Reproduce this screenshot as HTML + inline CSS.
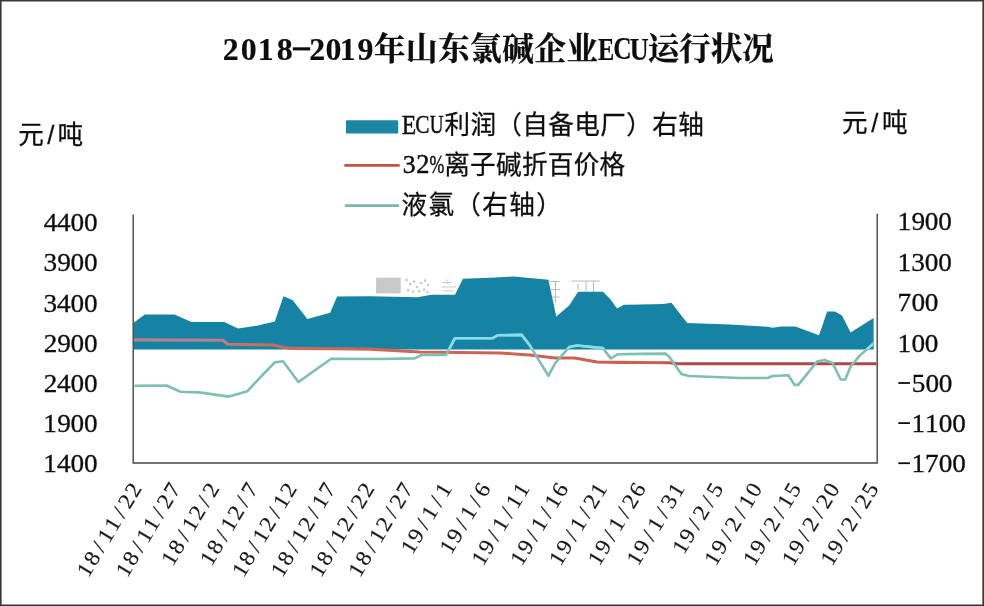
<!DOCTYPE html>
<html><head><meta charset="utf-8"><title>chart</title>
<style>
html,body{margin:0;padding:0;background:#fff;}
body{width:984px;height:606px;overflow:hidden;font-family:"Liberation Serif",serif;}
svg{display:block;position:absolute;left:0;top:0;}
text{font-family:"Liberation Serif",serif;fill:#111;}
svg{will-change:transform;}
.tb{font-weight:bold;fill:#0a0a0a;stroke:#0a0a0a;stroke-width:.15px;}
.ax text{stroke:#111;stroke-width:.3px;}
.xl text{fill:#161616;stroke:#161616;stroke-width:.15px;}
.lg{stroke:#111;stroke-width:.45px;}
</style></head><body>
<svg width="984" height="606" viewBox="0 0 984 606">
<defs><filter id="soft" x="0" y="0" width="984" height="606" filterUnits="userSpaceOnUse"><feGaussianBlur stdDeviation="0.45"/></filter></defs>
<rect x="0" y="0" width="984" height="606" fill="#fff"/>
<g filter="url(#soft)">
<text x="374" y="60" font-size="31.5" textLength="224" lengthAdjust="spacing" style="font-family:'Liberation Serif','Noto Serif CJK SC',serif;font-weight:bold;fill:#0a0a0a;stroke:#0a0a0a;stroke-width:.29px;">年山东氯碱企业</text>
<text x="647.8" y="60" font-size="31.5" textLength="126" lengthAdjust="spacing" style="font-family:'Liberation Serif','Noto Serif CJK SC',serif;font-weight:bold;fill:#0a0a0a;stroke:#0a0a0a;stroke-width:.29px;">运行状况</text>
<text class="tb" font-size="30" transform="translate(222.87 59.50) scale(1.060 1.050)">2</text>
<text class="tb" font-size="30" transform="translate(240.85 59.50) scale(1.060 1.050)">0</text>
<text class="tb" font-size="30" transform="translate(257.70 59.50) scale(1.060 1.050)">1</text>
<text class="tb" font-size="30" transform="translate(276.65 59.50) scale(1.060 1.050)">8</text>
<text class="tb" font-size="30" transform="translate(309.27 59.50) scale(1.060 1.050)">2</text>
<text class="tb" font-size="30" transform="translate(325.45 59.50) scale(1.060 1.050)">0</text>
<text class="tb" font-size="30" transform="translate(339.80 59.50) scale(1.060 1.050)">1</text>
<text class="tb" font-size="30" transform="translate(357.39 59.50) scale(1.060 1.050)">9</text>
<rect x="292.8" y="47.3" width="17.4" height="3.1" fill="#0a0a0a"/>
<text class="tb" font-size="30" transform="translate(598.08 59.80) scale(0.813 1.084)">E</text>
<text class="tb" font-size="30" transform="translate(613.26 59.49) scale(0.848 1.057)">C</text>
<text class="tb" font-size="30" transform="translate(629.75 59.50) scale(0.873 1.069)">U</text>
<text x="444.4" y="134" font-size="25.6" textLength="259.4" lengthAdjust="spacing" style="font-family:'Liberation Sans','Noto Sans CJK SC',sans-serif;fill:#111;stroke:#111;stroke-width:.28px;">利润（自备电厂）右轴</text>
<text x="444.2" y="173.7" font-size="25.6" textLength="181" lengthAdjust="spacing" style="font-family:'Liberation Sans','Noto Sans CJK SC',sans-serif;fill:#111;stroke:#111;stroke-width:.28px;">离子碱折百价格</text>
<text x="401.4" y="213.8" font-size="25.6" textLength="160.5" lengthAdjust="spacing" style="font-family:'Liberation Sans','Noto Sans CJK SC',sans-serif;fill:#111;stroke:#111;stroke-width:.28px;">液氯（右轴）</text>
<text x="18.2" y="143.9" font-size="25.6" textLength="65" lengthAdjust="spacing" style="font-family:'Liberation Sans','Noto Sans CJK SC',sans-serif;fill:#111;stroke:#111;stroke-width:.28px;">元/吨</text>
<text x="842.1" y="132.1" font-size="25.6" textLength="65.5" lengthAdjust="spacing" style="font-family:'Liberation Sans','Noto Sans CJK SC',sans-serif;fill:#111;stroke:#111;stroke-width:.28px;">元/吨</text>
<rect x="346" y="120.3" width="52.2" height="13.3" rx="1.2" fill="#1a86a5"/>
<line x1="345.5" x2="398.5" y1="165.4" y2="165.4" stroke="#c2533f" stroke-width="2.7" stroke-linecap="round"/>
<line x1="346" x2="398" y1="205.6" y2="205.6" stroke="#7ab6ac" stroke-width="2.6" stroke-linecap="round"/>
<text class="lg" font-size="25" transform="translate(401.82 133.60) scale(0.947 1.063)">E</text>
<text class="lg" font-size="25" transform="translate(415.22 133.35) scale(0.855 1.036)">C</text>
<text class="lg" font-size="25" transform="translate(429.70 133.34) scale(0.765 1.047)">U</text>
<text class="lg" font-size="25" transform="translate(402.87 172.95) scale(1.026 1.036)">3</text>
<text class="lg" font-size="25" transform="translate(416.14 173.20) scale(1.058 1.051)">2</text>
<text class="lg" font-size="25" transform="translate(429.59 172.86) scale(0.711 1.026)">%</text>
<rect x="376.1" y="277.7" width="24.6" height="15.8" fill="#c9c9c9"/><rect x="405.5" y="279.0" width="2.2" height="2.2" fill="#c4c8cc"/><rect x="409.0" y="283.0" width="2.2" height="2.2" fill="#c4c8cc"/><rect x="413.0" y="280.5" width="2.2" height="2.2" fill="#c4c8cc"/><rect x="416.0" y="286.0" width="2.2" height="2.2" fill="#c4c8cc"/><rect x="420.0" y="282.0" width="2.2" height="2.2" fill="#c4c8cc"/><rect x="424.0" y="279.5" width="2.2" height="2.2" fill="#c4c8cc"/><rect x="427.0" y="284.0" width="2.2" height="2.2" fill="#c4c8cc"/><rect x="407.0" y="289.0" width="2.2" height="2.2" fill="#c4c8cc"/><rect x="412.0" y="290.5" width="2.2" height="2.2" fill="#c4c8cc"/><rect x="418.0" y="290.0" width="2.2" height="2.2" fill="#c4c8cc"/><rect x="423.0" y="288.5" width="2.2" height="2.2" fill="#c4c8cc"/><rect x="426.5" y="291.0" width="2.2" height="2.2" fill="#c4c8cc"/><path d="M442 282.5H452M441.5 287H456M447 279.5V284M443 291H453" stroke="#c9ced2" stroke-width="1.1" fill="none"/><path d="M550 281.5H560M555.5 281.5V303M551 289.5H560M551.5 297H559.5M571.5 281H600M586 281V291M593.5 281V292M578 284V290" stroke="#b9bdc0" stroke-width="1.1" fill="none"/>
<polygon fill="#1683a4" points="133.3,349.6 133.3,323.0 144.8,314.6 174.5,314.6 191.4,322.0 224.2,322.0 238.0,328.6 258.0,325.6 274.8,321.5 283.5,296.3 292.5,300.0 307.4,318.9 330.2,312.7 337.1,296.4 370.0,296.2 417.5,297.2 431.4,294.7 455.0,294.7 463.0,278.8 490.0,277.8 513.8,276.4 548.4,279.8 556.3,316.4 569.2,305.5 578.1,291.7 602.9,291.7 610.0,298.7 617.0,308.6 623.9,304.7 663.5,304.0 671.4,302.7 687.2,323.0 730.0,324.5 767.6,326.8 772.6,327.8 781.5,326.4 795.3,326.4 819.0,335.3 827.2,311.5 834.8,311.4 842.0,315.5 850.6,332.6 873.6,318.0 873.6,349.6"/>
<clipPath id="ca"><polygon points="133.3,349.6 133.3,323.0 144.8,314.6 174.5,314.6 191.4,322.0 224.2,322.0 238.0,328.6 258.0,325.6 274.8,321.5 283.5,296.3 292.5,300.0 307.4,318.9 330.2,312.7 337.1,296.4 370.0,296.2 417.5,297.2 431.4,294.7 455.0,294.7 463.0,278.8 490.0,277.8 513.8,276.4 548.4,279.8 556.3,316.4 569.2,305.5 578.1,291.7 602.9,291.7 610.0,298.7 617.0,308.6 623.9,304.7 663.5,304.0 671.4,302.7 687.2,323.0 730.0,324.5 767.6,326.8 772.6,327.8 781.5,326.4 795.3,326.4 819.0,335.3 827.2,311.5 834.8,311.4 842.0,315.5 850.6,332.6 873.6,318.0 873.6,349.6"/></clipPath>
<linearGradient id="rg" gradientUnits="userSpaceOnUse" x1="133" x2="877" y1="0" y2="0"><stop offset="0.0000" stop-color="#b3838a"/><stop offset="0.1223" stop-color="#b6818a"/><stop offset="0.1331" stop-color="#c3736e"/><stop offset="0.2110" stop-color="#cb6a5a"/><stop offset="0.7083" stop-color="#cc5f50"/><stop offset="0.7406" stop-color="#ad4a49"/><stop offset="1.0000" stop-color="#ad4a49"/></linearGradient>
<polyline fill="none" stroke-linejoin="round" stroke-linecap="butt" points="133.3,339.9 223.0,340.3 227.8,344.3 272.8,345.0 289.6,348.4 330.0,348.8 370.0,349.1 419.5,352.0 500.0,353.0 529.6,355.0 555.3,358.0 575.0,358.0 597.0,362.0 620.0,362.4 669.4,362.7 677.3,363.7 876.5,363.7" stroke="url(#rg)" stroke-width="3.1"/>
<polyline fill="none" stroke-linejoin="round" stroke-linecap="butt" points="134.5,385.9 166.6,385.5 180.4,391.7 199.0,392.4 229.0,396.6 247.4,391.2 263.6,373.9 274.8,362.4 283.0,361.2 298.4,382.0 331.2,358.7 380.0,359.0 414.6,358.4 421.5,355.0 446.0,355.0 455.0,338.2 492.8,338.2 498.0,335.2 521.7,334.9 529.6,345.1 548.4,375.8 555.3,363.0 569.2,347.1 577.0,345.5 602.9,348.1 610.8,358.5 618.0,354.2 665.4,353.6 669.4,357.0 681.3,374.0 689.2,376.0 740.0,378.0 767.6,378.0 772.6,376.0 788.4,375.3 794.4,384.9 798.3,384.9 817.1,361.5 824.5,360.0 832.5,363.0 840.7,379.5 845.2,379.5 850.6,366.5 859.5,355.9 873.5,343.5" stroke="#7dbfb3" stroke-width="2.6"/>
<g clip-path="url(#ca)"><polyline fill="none" stroke-linejoin="round" stroke-linecap="butt" points="134.5,385.9 166.6,385.5 180.4,391.7 199.0,392.4 229.0,396.6 247.4,391.2 263.6,373.9 274.8,362.4 283.0,361.2 298.4,382.0 331.2,358.7 380.0,359.0 414.6,358.4 421.5,355.0 446.0,355.0 455.0,338.2 492.8,338.2 498.0,335.2 521.7,334.9 529.6,345.1 548.4,375.8 555.3,363.0 569.2,347.1 577.0,345.5 602.9,348.1 610.8,358.5 618.0,354.2 665.4,353.6 669.4,357.0 681.3,374.0 689.2,376.0 740.0,378.0 767.6,378.0 772.6,376.0 788.4,375.3 794.4,384.9 798.3,384.9 817.1,361.5 824.5,360.0 832.5,363.0 840.7,379.5 845.2,379.5 850.6,366.5 859.5,355.9 873.5,343.5" stroke="#86dfe8" stroke-width="2.6"/></g>
<path d="M133.2 214.6V463H877.2V213.8" fill="none" stroke="#484848" stroke-width="1.4"/>
<g class="ax"><text font-size="25" transform="translate(43.63 231.40) scale(1.090 1.000)">4</text><text font-size="25" transform="translate(57.08 231.40) scale(1.090 1.000)">4</text><text font-size="25" transform="translate(70.59 231.40) scale(1.090 1.000)">0</text><text font-size="25" transform="translate(84.04 231.40) scale(1.090 1.000)">0</text><text font-size="25" transform="translate(43.57 271.45) scale(1.090 1.000)">3</text><text font-size="25" transform="translate(57.26 271.45) scale(1.090 1.000)">9</text><text font-size="25" transform="translate(70.59 271.45) scale(1.090 1.000)">0</text><text font-size="25" transform="translate(84.04 271.45) scale(1.090 1.000)">0</text><text font-size="25" transform="translate(43.57 311.50) scale(1.090 1.000)">3</text><text font-size="25" transform="translate(57.08 311.50) scale(1.090 1.000)">4</text><text font-size="25" transform="translate(70.59 311.50) scale(1.090 1.000)">0</text><text font-size="25" transform="translate(84.04 311.50) scale(1.090 1.000)">0</text><text font-size="25" transform="translate(43.84 351.55) scale(1.090 1.000)">2</text><text font-size="25" transform="translate(57.26 351.55) scale(1.090 1.000)">9</text><text font-size="25" transform="translate(70.59 351.55) scale(1.090 1.000)">0</text><text font-size="25" transform="translate(84.04 351.55) scale(1.090 1.000)">0</text><text font-size="25" transform="translate(43.84 391.60) scale(1.090 1.000)">2</text><text font-size="25" transform="translate(57.08 391.60) scale(1.090 1.000)">4</text><text font-size="25" transform="translate(70.59 391.60) scale(1.090 1.000)">0</text><text font-size="25" transform="translate(84.04 391.60) scale(1.090 1.000)">0</text><text font-size="25" transform="translate(43.31 431.65) scale(1.090 1.000)">1</text><text font-size="25" transform="translate(57.26 431.65) scale(1.090 1.000)">9</text><text font-size="25" transform="translate(70.59 431.65) scale(1.090 1.000)">0</text><text font-size="25" transform="translate(84.04 431.65) scale(1.090 1.000)">0</text><text font-size="25" transform="translate(43.31 471.70) scale(1.090 1.000)">1</text><text font-size="25" transform="translate(57.08 471.70) scale(1.090 1.000)">4</text><text font-size="25" transform="translate(70.59 471.70) scale(1.090 1.000)">0</text><text font-size="25" transform="translate(84.04 471.70) scale(1.090 1.000)">0</text><text font-size="25" transform="translate(897.61 229.70) scale(1.090 1.000)">1</text><text font-size="25" transform="translate(911.51 229.70) scale(1.090 1.000)">9</text><text font-size="25" transform="translate(924.79 229.70) scale(1.090 1.000)">0</text><text font-size="25" transform="translate(938.19 229.70) scale(1.090 1.000)">0</text><text font-size="25" transform="translate(897.61 271.38) scale(1.090 1.000)">1</text><text font-size="25" transform="translate(911.27 271.38) scale(1.090 1.000)">3</text><text font-size="25" transform="translate(924.79 271.38) scale(1.090 1.000)">0</text><text font-size="25" transform="translate(938.19 271.38) scale(1.090 1.000)">0</text><text font-size="25" transform="translate(897.48 311.46) scale(1.090 1.000)">7</text><text font-size="25" transform="translate(911.39 311.46) scale(1.090 1.000)">0</text><text font-size="25" transform="translate(924.79 311.46) scale(1.090 1.000)">0</text><text font-size="25" transform="translate(897.61 351.54) scale(1.090 1.000)">1</text><text font-size="25" transform="translate(911.39 351.54) scale(1.090 1.000)">0</text><text font-size="25" transform="translate(924.79 351.54) scale(1.090 1.000)">0</text><rect x="898.3" y="382.1" width="11.6" height="1.8" fill="#111"/><text font-size="25" transform="translate(911.73 391.62) scale(1.090 1.000)">5</text><text font-size="25" transform="translate(925.39 391.62) scale(1.090 1.000)">0</text><text font-size="25" transform="translate(938.79 391.62) scale(1.090 1.000)">0</text><rect x="898.3" y="422.2" width="11.6" height="1.8" fill="#111"/><text font-size="25" transform="translate(911.61 431.70) scale(1.090 1.000)">1</text><text font-size="25" transform="translate(925.01 431.70) scale(1.090 1.000)">1</text><text font-size="25" transform="translate(938.79 431.70) scale(1.090 1.000)">0</text><text font-size="25" transform="translate(952.19 431.70) scale(1.090 1.000)">0</text><rect x="898.3" y="462.3" width="11.6" height="1.8" fill="#111"/><text font-size="25" transform="translate(911.61 471.78) scale(1.090 1.000)">1</text><text font-size="25" transform="translate(924.88 471.78) scale(1.090 1.000)">7</text><text font-size="25" transform="translate(938.79 471.78) scale(1.090 1.000)">0</text><text font-size="25" transform="translate(952.19 471.78) scale(1.090 1.000)">0</text></g>
<g class="xl"><text font-size="22" text-anchor="middle" transform="translate(143.5 488.5) rotate(-59) scale(1.06 1)" y="-1" x="-94.0 -81.4 -68.9 -56.3 -43.8 -31.2 -18.7 -6.1">18/11/22</text><text font-size="22" text-anchor="middle" transform="translate(182.3 488.5) rotate(-59) scale(1.06 1)" y="-1" x="-94.0 -81.4 -68.9 -56.3 -43.8 -31.2 -18.7 -6.1">18/11/27</text><text font-size="22" text-anchor="middle" transform="translate(221.1 488.5) rotate(-59) scale(1.06 1)" y="-1" x="-81.4 -68.9 -56.3 -43.8 -31.2 -18.7 -6.1">18/12/2</text><text font-size="22" text-anchor="middle" transform="translate(259.8 488.5) rotate(-59) scale(1.06 1)" y="-1" x="-81.4 -68.9 -56.3 -43.8 -31.2 -18.7 -6.1">18/12/7</text><text font-size="22" text-anchor="middle" transform="translate(298.6 488.5) rotate(-59) scale(1.06 1)" y="-1" x="-94.0 -81.4 -68.9 -56.3 -43.8 -31.2 -18.7 -6.1">18/12/12</text><text font-size="22" text-anchor="middle" transform="translate(337.4 488.5) rotate(-59) scale(1.06 1)" y="-1" x="-94.0 -81.4 -68.9 -56.3 -43.8 -31.2 -18.7 -6.1">18/12/17</text><text font-size="22" text-anchor="middle" transform="translate(376.2 488.5) rotate(-59) scale(1.06 1)" y="-1" x="-94.0 -81.4 -68.9 -56.3 -43.8 -31.2 -18.7 -6.1">18/12/22</text><text font-size="22" text-anchor="middle" transform="translate(415.0 488.5) rotate(-59) scale(1.06 1)" y="-1" x="-94.0 -81.4 -68.9 -56.3 -43.8 -31.2 -18.7 -6.1">18/12/27</text><text font-size="22" text-anchor="middle" transform="translate(453.7 488.5) rotate(-59) scale(1.06 1)" y="-1" x="-68.9 -56.3 -43.8 -31.2 -18.7 -6.1">19/1/1</text><text font-size="22" text-anchor="middle" transform="translate(492.5 488.5) rotate(-59) scale(1.06 1)" y="-1" x="-68.9 -56.3 -43.8 -31.2 -18.7 -6.1">19/1/6</text><text font-size="22" text-anchor="middle" transform="translate(531.3 488.5) rotate(-59) scale(1.06 1)" y="-1" x="-81.4 -68.9 -56.3 -43.8 -31.2 -18.7 -6.1">19/1/11</text><text font-size="22" text-anchor="middle" transform="translate(570.1 488.5) rotate(-59) scale(1.06 1)" y="-1" x="-81.4 -68.9 -56.3 -43.8 -31.2 -18.7 -6.1">19/1/16</text><text font-size="22" text-anchor="middle" transform="translate(608.9 488.5) rotate(-59) scale(1.06 1)" y="-1" x="-81.4 -68.9 -56.3 -43.8 -31.2 -18.7 -6.1">19/1/21</text><text font-size="22" text-anchor="middle" transform="translate(647.6 488.5) rotate(-59) scale(1.06 1)" y="-1" x="-81.4 -68.9 -56.3 -43.8 -31.2 -18.7 -6.1">19/1/26</text><text font-size="22" text-anchor="middle" transform="translate(686.4 488.5) rotate(-59) scale(1.06 1)" y="-1" x="-81.4 -68.9 -56.3 -43.8 -31.2 -18.7 -6.1">19/1/31</text><text font-size="22" text-anchor="middle" transform="translate(725.2 488.5) rotate(-59) scale(1.06 1)" y="-1" x="-68.9 -56.3 -43.8 -31.2 -18.7 -6.1">19/2/5</text><text font-size="22" text-anchor="middle" transform="translate(764.0 488.5) rotate(-59) scale(1.06 1)" y="-1" x="-81.4 -68.9 -56.3 -43.8 -31.2 -18.7 -6.1">19/2/10</text><text font-size="22" text-anchor="middle" transform="translate(802.8 488.5) rotate(-59) scale(1.06 1)" y="-1" x="-81.4 -68.9 -56.3 -43.8 -31.2 -18.7 -6.1">19/2/15</text><text font-size="22" text-anchor="middle" transform="translate(841.5 488.5) rotate(-59) scale(1.06 1)" y="-1" x="-81.4 -68.9 -56.3 -43.8 -31.2 -18.7 -6.1">19/2/20</text><text font-size="22" text-anchor="middle" transform="translate(880.3 488.5) rotate(-59) scale(1.06 1)" y="-1" x="-81.4 -68.9 -56.3 -43.8 -31.2 -18.7 -6.1">19/2/25</text></g>
</g>
<path d="M0 0H984V606H0Z M1.6 1.6V604.4H982.4V1.6Z" fill="#383838" fill-rule="evenodd"/>
</svg>
</body></html>
